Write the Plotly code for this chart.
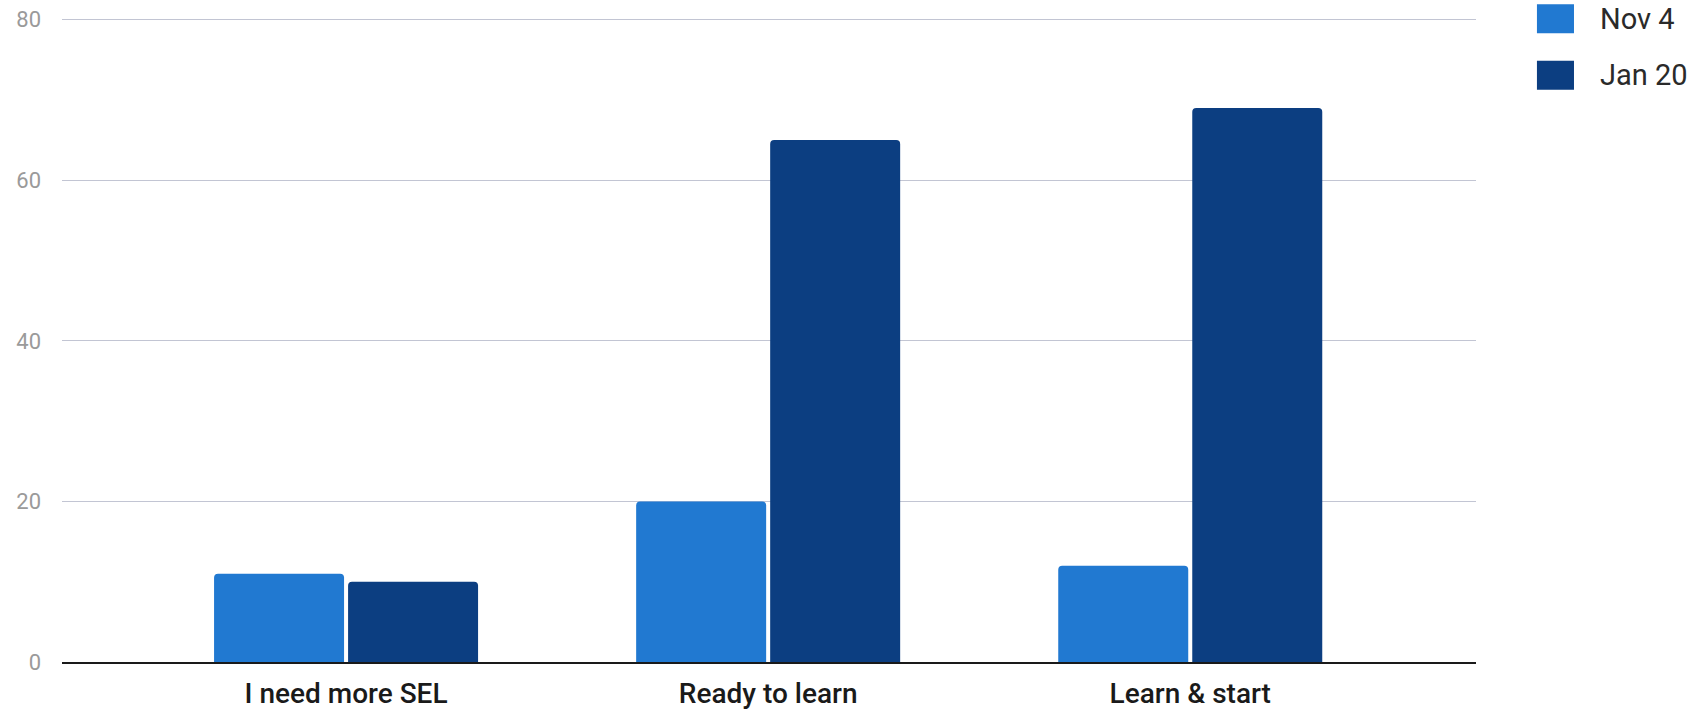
import plotly.graph_objects as go

# Survey responses by category, two survey dates
categories = ["I need more SEL", "Ready to learn", "Learn & start"]
series_names = ["Nov 4", "Jan 20"]
nov4_values = [11, 20, 12]
jan20_values = [10, 65, 69]
y_ticks = [0, 20, 40, 60, 80]

colors = ["#2179d1", "#0c3e81"]

fig = go.Figure()
for name, vals, col in zip(series_names, [nov4_values, jan20_values], colors):
    fig.add_trace(go.Bar(
        name=name, x=categories, y=vals,
        marker=dict(color=col, line=dict(width=0), cornerradius=4),
        showlegend=False,
    ))

# Legend drawn as large swatches with labels on the right side
legend_y = [0.999, 0.911]
for name, col, yy in zip(series_names, colors, legend_y):
    fig.add_shape(type="rect", xref="paper", yref="paper",
                  x0=1.0431, x1=1.0693, y0=yy - 0.0225, y1=yy + 0.0225,
                  fillcolor=col, line=dict(width=0), layer="above")
    fig.add_annotation(text=name, xref="paper", yref="paper",
                       x=1.086, y=yy, xanchor="left", yanchor="middle",
                       showarrow=False,
                       font=dict(family="Roboto", size=29, color="#2a2a2a"))

fig.update_layout(
    width=1706, height=714,
    margin=dict(l=62, r=230, t=18, b=52),
    paper_bgcolor="white", plot_bgcolor="white",
    barmode="group", bargap=0.365, bargroupgap=0.03,
    xaxis=dict(
        range=[-0.673, 2.677], automargin=False,
        showline=True, linecolor="#1a1a1a", linewidth=2,
        showgrid=False, ticks="",
        ticklabelstandoff=5,
        tickfont=dict(family="Roboto", size=28, weight=500, color="#1a1a1a"),
    ),
    yaxis=dict(
        range=[0, 80.2], tickvals=y_ticks, automargin=False,
        showgrid=True, gridcolor="#c2c5d3", gridwidth=1,
        zeroline=False, ticks="",
        ticklabelstandoff=20,
        tickfont=dict(family="Roboto", size=22, color="#9a9a9a"),
    ),
)

fig.write_html("out.html")
